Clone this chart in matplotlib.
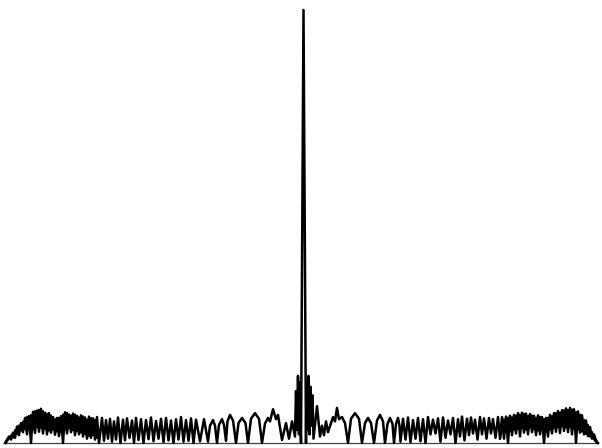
import matplotlib
matplotlib.use("Agg")
import matplotlib.pyplot as plt
import numpy as np

# compressed pulse: lag in samples, amplitude in % of the main peak
# main trace, read off left to right as peaks and troughs
lag_left_edge = [-298, -294, -292, -290, -288, -286, -284, -282, -280, -278, -276, -274,
                 -272, -270, -268, -266, -264, -262, -260, -258, -256, -254, -252, -250,
                 -248, -246, -244, -242, -240, -238, -236, -234, -232, -230, -228, -226,
                 -224, -222, -220, -218, -216, -214, -212, -210, -208, -206, -204]
amp_left_edge = [0, 1.5, 0.8, 2.4, 1.2, 3.8, 1.8, 4.6, 2.5, 5.8, 2.0, 6.2,
                 0.0, 7.2, 2.3, 7.5, 2.6, 7.9, 2.2, 7.0, 2.0, 6.9, 2.4, 6.0,
                 1.9, 5.8, 1.6, 6.2, 0.0, 7.1, 2.2, 6.6, 2.5, 6.8, 1.8, 6.3,
                 2.0, 6.4, 1.5, 5.9, 1.0, 6.1, 1.2, 5.7, 0.8, 6.0, 0.0]

lag_left_mid = [-201, -199, -197, -195, -193, -191, -189, -187, -185, -182.5, -180, -178,
                -176, -173.5, -171, -169, -167, -164.5, -162, -159.5, -157, -154.5, -152,
                -149.5, -147, -144.5, -142, -139.5, -137, -134.5, -132, -129.5, -127,
                -124.5, -122, -119.5, -117, -114.5, -112, -109.5, -107, -103]
amp_left_mid = [5.8, 0.5, 5.3, 1.0, 5.6, 0.3, 5.0, 0.8, 5.9, 0.0, 5.4, 0.6,
                5.7, 1.2, 5.2, 0.0, 5.8, 0.7, 5.5, 0.0, 5.3, 0.9, 5.9,
                0.4, 5.1, 1.0, 5.6, 0.2, 5.8, 0.6, 5.2, 0.0, 5.5,
                0.8, 6.0, 0.3, 5.3, 0.5, 5.7, 0.0, 5.4, 0.4]

lag_centre = [-99, -95, -93, -90, -88, -86, -84, -81, -79, -77,
              -75.5, -73, -70, -67, -64.5, -61, -57.5, -55, -52, -48,
              -44, -41, -38, -35, -33, -30, -27, -25, -21, -17,
              -14, -11, -8, -7, -6, -5, -4, -3, -2.5, -2,
              0.5, 3, 3.5, 4.5, 5.5, 6.5, 7.5, 8.5, 9.5, 10.5,
              14, 17, 19, 21, 23, 25, 30, 32, 34, 36,
              39, 42, 45, 48, 52, 56, 59, 62, 65, 68,
              71, 74, 77, 80, 82, 84.5, 87, 89.5, 91, 93,
              95, 96.5, 97.5]
amp_centre = [5.5, 0.3, 4.0, 5.3, 4.0, 0.0, 4.2, 5.5, 4.2, 0.5,
              5.0, 6.5, 5.2, 0.0, 4.6, 5.8, 4.6, 0.0, 5.6, 6.9,
              5.6, 0.0, 4.5, 5.8, 5.0, 7.8, 5.5, 6.5, 0.7, 4.6,
              1.0, 5.0, 1.5, 12, 3, 15.5, 2, 14, 4, 0,
              100, 0, 14, 3, 15.5, 2, 13, 4, 11, 1,
              8.5, 1.5, 4.0, 1.8, 5.0, 2.5, 6.0, 5.0, 8.1, 5.5,
              6.0, 4.6, 0, 5.6, 6.9, 5.6, 0, 4.6, 5.8, 4.6,
              0, 5.2, 6.5, 5.0, 0, 4.4, 5.8, 4.4, 0, 4.4,
              5.8, 4.0, 0.3]

lag_right_mid_pk = [100, 105, 110, 115, 120, 125, 130, 135, 140, 145, 150, 155, 159, 164,
                    168, 172, 177, 181, 186, 190, 195]
amp_right_mid_pk = [5.6, 5.9, 5.3, 5.8, 5.5, 6.0, 5.4, 5.7, 5.9, 5.2, 5.8, 5.5, 6.1, 5.6,
                    5.9, 5.4, 6.0, 5.7, 5.8, 5.5, 6.0]
lag_right_mid_tr = [102.5, 107.5, 112.5, 117.5, 122.5, 127.5, 132.5, 137.5, 142.5, 147.5,
                    152.5, 157, 161.5, 166, 170, 174.5, 179, 183.5, 188, 192.5, 197]
amp_right_mid_tr = [0.8, 0.2, 1.0, 0.4, 0.0, 2.0, 2.2, 0.3, 1.2, 2.0,
                    0.0, 1.5, 0.6, 1.8, 2.2, 0.8, 2.0, 1.0, 2.2, 1.2, 1.0]

lag_right_edge_pk = [199, 203, 207, 211, 215, 219, 223, 227, 231, 235, 239, 243,
                     247, 251, 255, 259, 263, 267, 271, 275, 279, 283, 287, 291]
amp_right_edge_pk = [6.0, 6.1, 6.3, 6.5, 6.9, 7.0, 6.8, 6.7, 6.3, 6.4, 6.0, 5.8,
                     6.5, 6.9, 7.4, 7.6, 8.0, 8.1, 7.8, 7.3, 6.4, 5.2, 3.7, 2.0]
lag_right_edge_tr = [201, 205, 209, 213, 217, 221, 225, 229, 233, 237, 241, 245,
                     249, 253, 257, 261, 265, 269, 273, 277, 281, 285, 289, 293]
amp_right_edge_tr = [1.0, 0.0, 1.8, 2.2, 1.5, 2.4, 2.0, 2.5, 1.8, 2.0, 0.0, 1.5,
                     2.2, 2.6, 2.3, 2.8, 2.5, 2.0, 0.0, 2.4, 2.0, 1.6, 1.0, 0.6]
lag_end, amp_end = 295, 0

# second overlaid trace near the ends of the record
lag_b_left_pk = [-292, -288, -284, -280, -276, -272, -268, -264, -260, -256, -252,
                 -248, -244, -240, -236, -232, -228, -224, -220, -216, -212, -208]
amp_b_left_pk = [1.8, 3.0, 4.1, 5.0, 6.1, 6.5, 7.4, 7.7, 7.4, 6.8, 6.4,
                 5.6, 5.9, 6.6, 7.0, 6.4, 6.6, 6.0, 6.2, 5.5, 5.8, 5.4]
lag_b_left_tr = [-290, -286, -282, -278, -274, -270, -266, -262, -258, -254, -250,
                 -246, -242, -238, -234, -230, -226, -222, -218, -214, -210, -206]
amp_b_left_tr = [1.2, 2.0, 2.8, 3.2, 3.5, 3.0, 3.6, 3.4, 3.2, 2.8, 3.0,
                 2.6, 2.4, 3.0, 3.3, 2.9, 2.7, 2.4, 2.0, 1.6, 1.8, 1.2]

lag_b_right_pk = [201, 205, 209, 213, 217, 221, 225, 229, 233, 237, 241, 245,
                  249, 253, 257, 261, 265, 269, 273, 277, 281, 285, 289]
amp_b_right_pk = [5.5, 5.9, 6.0, 6.4, 6.6, 6.8, 6.3, 6.4, 5.9, 6.1, 5.6, 5.9,
                  6.3, 7.0, 7.1, 7.6, 7.7, 7.8, 7.2, 6.6, 5.4, 4.2, 2.6]
lag_b_right_tr = [203, 207, 211, 215, 219, 223, 227, 231, 235, 239, 243, 247,
                  251, 255, 259, 263, 267, 271, 275, 279, 283, 287, 291]
amp_b_right_tr = [2.5, 2.8, 3.0, 3.2, 3.4, 3.0, 3.5, 3.1, 2.8, 3.0, 2.6, 3.0,
                  3.4, 3.6, 3.8, 3.5, 3.6, 3.3, 3.0, 2.6, 2.0, 1.4, 0.8]


def weave(a, b):
    return list(np.column_stack([a, b]).ravel())


lag_a = (lag_left_edge + lag_left_mid + lag_centre
         + weave(lag_right_mid_pk, lag_right_mid_tr)
         + weave(lag_right_edge_pk, lag_right_edge_tr) + [lag_end])
amp_a = (amp_left_edge + amp_left_mid + amp_centre
         + weave(amp_right_mid_pk, amp_right_mid_tr)
         + weave(amp_right_edge_pk, amp_right_edge_tr) + [amp_end])

lag_bl = [-297] + weave(lag_b_left_pk, lag_b_left_tr)
amp_bl = [0] + weave(amp_b_left_pk, amp_b_left_tr)
lag_br = [197] + weave(lag_b_right_pk, lag_b_right_tr) + [294]
amp_br = [1.0] + weave(amp_b_right_pk, amp_b_right_tr) + [0]

fig = plt.figure(figsize=(6.02, 4.48), dpi=100)
ax = fig.add_axes([0, 0, 1, 1])
ax.axis('off')

ax.plot([lag_a[0], lag_a[-1]], [0, 0], color='#444444', lw=0.9)
ax.plot(lag_bl, amp_bl, color='black', lw=1.4, solid_joinstyle='round')
ax.plot(lag_br, amp_br, color='black', lw=1.4, solid_joinstyle='round')
ax.plot(lag_a, amp_a, color='black', lw=1.8, solid_joinstyle='round')

ax.set_xlim(-303, 299)
ax.set_ylim(-1.15, 102.3)

fig.savefig('out.png', dpi=100, facecolor='white')
